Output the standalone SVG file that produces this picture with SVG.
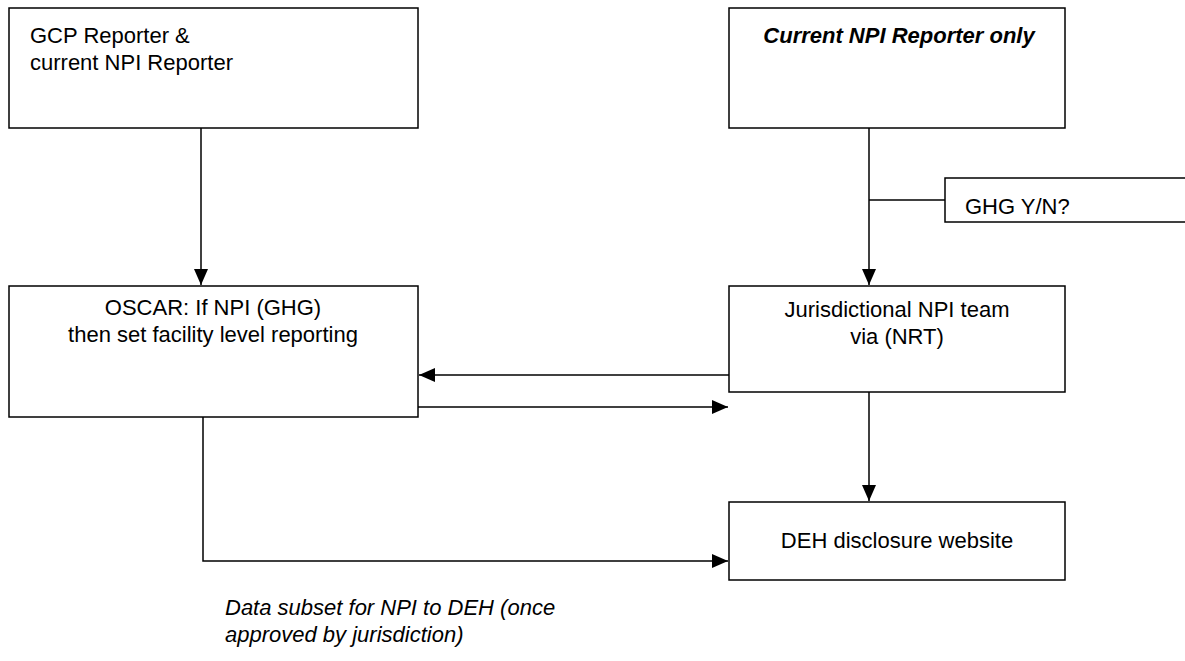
<svg xmlns="http://www.w3.org/2000/svg" width="1185" height="661" viewBox="0 0 1185 661">
<style>
.box{fill:#fff;stroke:#000;stroke-width:1.5}
.t{font-family:"Liberation Sans",Arial,sans-serif;font-size:22px;fill:#000}
.c{text-anchor:middle}
.bi{font-weight:bold;font-style:italic}
.i{font-style:italic}
.ln{fill:none;stroke:#000;stroke-width:1.5}
</style>
<defs>
<marker id="ah" markerWidth="16" markerHeight="14" viewBox="0 0 16 14" refX="16" refY="7" orient="auto" markerUnits="userSpaceOnUse">
<path d="M0,0 L16,7 L0,14 Z" fill="#000"/>
</marker>
</defs>
<rect width="1185" height="661" fill="#fff"/>
<g id="connectors">
<line class="ln" x1="201" y1="128" x2="201" y2="285" marker-end="url(#ah)"/>
<line class="ln" x1="869" y1="128" x2="869" y2="285" marker-end="url(#ah)"/>
<line class="ln" x1="869" y1="200" x2="945" y2="200"/>
<line class="ln" x1="729" y1="375" x2="419" y2="375" marker-end="url(#ah)"/>
<line class="ln" x1="418" y1="407" x2="728" y2="407" marker-end="url(#ah)"/>
<line class="ln" x1="869" y1="392" x2="869" y2="501" marker-end="url(#ah)"/>
<polyline class="ln" points="203,417 203,561 728,561" marker-end="url(#ah)"/>
</g>
<g id="gcp">
<rect class="box" x="9" y="8" width="409" height="120"/>
<text class="t" x="30" y="43">GCP Reporter &amp;</text>
<text class="t" x="30" y="70">current NPI Reporter</text>
</g>
<g id="npi-only">
<rect class="box" x="729" y="8" width="336" height="120"/>
<text class="t c bi" x="899" y="43">Current NPI Reporter only</text>
</g>
<g id="ghg">
<rect class="box" x="945" y="178" width="245" height="44"/>
<text class="t" x="965" y="214">GHG Y/N?</text>
</g>
<g id="oscar">
<rect class="box" x="9" y="286" width="409" height="131"/>
<text class="t c" x="213" y="315">OSCAR: If NPI (GHG)</text>
<text class="t c" x="213" y="342">then set facility level reporting</text>
</g>
<g id="jurisdictional">
<rect class="box" x="729" y="286" width="336" height="106"/>
<text class="t c" x="897" y="317">Jurisdictional NPI team</text>
<text class="t c" x="897" y="344">via (NRT)</text>
</g>
<g id="deh">
<rect class="box" x="729" y="502" width="336" height="78"/>
<text class="t c" x="897" y="548">DEH disclosure website</text>
</g>
<g id="note">
<text class="t i" x="225" y="615">Data subset for NPI to DEH (once</text>
<text class="t i" x="225" y="642">approved by jurisdiction)</text>
</g>
</svg>
